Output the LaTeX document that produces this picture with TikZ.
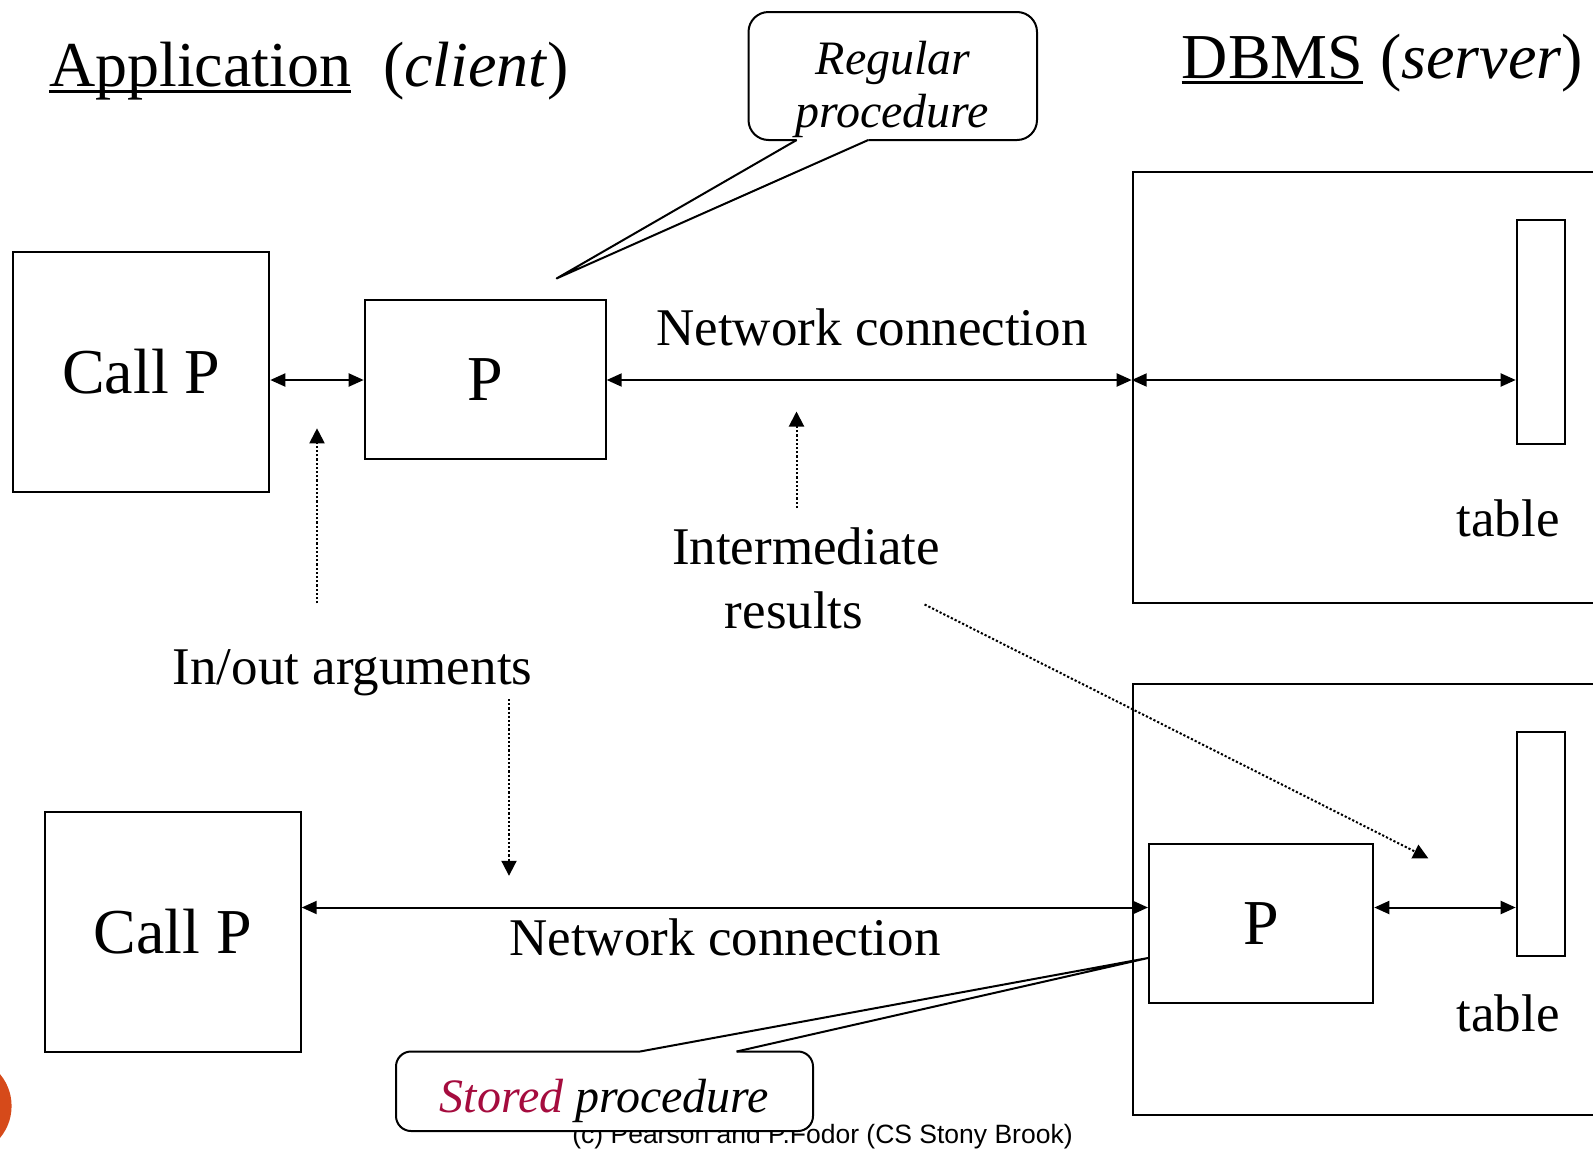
\documentclass[tikz,border=0pt]{standalone}
\usepackage{fontspec}
\setmainfont{Liberation Serif}
\newfontfamily\footfont{Liberation Sans}
\usetikzlibrary{arrows.meta}
\definecolor{storedred}{RGB}{165,12,62}
\definecolor{slidemark}{RGB}{214,74,26}
\newcommand{\fs}[1]{\fontsize{#1}{#1}\selectfont}

\begin{document}
\begin{tikzpicture}[x=1pt,y=-1pt,
  box/.style={draw, line width=2pt, inner sep=0pt, fill=white},
  link/.style={line width=2pt, {Triangle[length=15pt,width=13pt]}-{Triangle[length=15pt,width=13pt]}},
  hint/.style={line width=2pt, dash pattern=on 2.2pt off 2pt, -{Triangle[length=15pt,width=15pt]}},
  big/.style={font=\fs{64}},
  lbl/.style={font=\fs{53}, inner sep=0pt, anchor=base},
  ital/.style={font=\fs{48}\itshape, inner sep=0pt, anchor=base},
  title/.style={font=\fs{64}, inner sep=0pt, anchor=base west},
  bubble/.style={line width=2pt},
]
\useasboundingbox (0,0) rectangle (1593,1149);
\clip (0,0) rectangle (1593,1149);
\fill[white] (0,0) rectangle (1593,1149);

% slide decoration at the lower left
\fill[slidemark] (-38,1106) circle[radius=49.6pt];

% headings
\node[title] (app) at (48.8,86) {Application};
\draw[line width=3pt] ([yshift=-5pt]app.base west) -- ([yshift=-5pt]app.base east);
\node[title] (client) at (383,86) {(\textit{client})};
\node[title] (dbms) at (1181.6,78) {DBMS};
\draw[line width=3pt] ([yshift=-4pt]dbms.base west) -- ([yshift=-4pt]dbms.base east);
\node[title] (server) at (1380,78) {(\textit{server})};

% upper scenario: regular procedure on the client
\node[box, big, minimum width=256pt, minimum height=240pt] (callA) at (141.3,371.9) {Call P};
\node[box, big, minimum width=241pt, minimum height=159.6pt] (procA) at (485.2,379.5) {P};
\node[box, minimum width=517pt, minimum height=431.3pt] (dbA) at (1391.2,387.65) {};
\node[box, minimum width=48.6pt, minimum height=224pt] (tabA) at (1541,332) {};
\node[lbl] (tabAl) at (1508,536.7) {table};

\coordinate (rowA) at (0,380);
\draw[link] (callA.east |- rowA) -- (procA.west |- rowA);
\draw[link] (procA.east |- rowA) -- (dbA.west |- rowA);
\draw[link] (dbA.west |- rowA) -- (tabA.west |- rowA);

\node[lbl] (netA) at (872,345) {Network connection};
\node[lbl] (inter) at (806,564) {Intermediate};
\node[lbl] (res) at (794,628) {results};
\node[lbl] (inout) at (352.5,684) {In/out arguments};

% lower scenario: stored procedure inside the DBMS
\node[box, big, minimum width=256pt, minimum height=239.7pt] (callB) at (172.7,931.65) {Call P};
\node[box, minimum width=517pt, minimum height=431.3pt] (dbB) at (1391.2,899.65) {};
\node[box, minimum width=48.6pt, minimum height=224pt] (tabB) at (1541,843.7) {};
\node[box, big, minimum width=224.3pt, minimum height=159.6pt] (procB) at (1261.15,923.5) {P};
\node[lbl] (tabBl) at (1508,1031.7) {table};

\coordinate (rowB) at (0,907.5);
\draw[link] (callB.east |- rowB) -- (procB.west |- rowB);
\draw[link] (procB.east |- rowB) -- (tabB.west |- rowB);

\node[lbl] (netB) at (725,955) {Network connection};

% dotted pointers from the labels
\coordinate (ioA0) at (317,603.3);   \coordinate (ioA1) at (317,428.3);
\coordinate (imA0) at (796.5,508);   \coordinate (imA1) at (796.5,411.5);
\coordinate (ioB0) at (509,699);     \coordinate (ioB1) at (509,875.8);
\coordinate (imB0) at (924.6,604.5); \coordinate (imB1) at (1428.3,858.3);
\draw[hint] (ioA0) -- (ioA1);
\draw[hint] (imA0) -- (imA1);
\draw[hint] (ioB0) -- (ioB1);
\draw[hint] (imB0) -- (imB1);

% callout: regular procedure
\coordinate (regtip) at (556.7,278.4);
\draw[bubble, rounded corners=20pt] (868.3,140) -- (1037,140) -- (1037,12) -- (748.5,12) -- (748.5,140) -- (796.7,140);
\draw[bubble, line join=round] (796.7,140) -- (regtip) -- (868.3,140);
\node[ital] (reg1) at (893,74) {Regular};
\node[ital] (reg2) at (892,127) {procedure};

% footer
\node[font=\footfont\fs{26.5}, inner sep=0pt, anchor=base] (foot) at (822.5,1143) {(c) Pearson and P.Fodor (CS Stony Brook)};

% callout: stored procedure
\coordinate (sttip) at ([yshift=-34.5pt]procB.west);
\fill[white, rounded corners=15pt] (396,1051.5) rectangle (813,1131);
\draw[bubble, rounded corners=15pt] (736.6,1051.5) -- (813,1051.5) -- (813,1131) -- (396,1131) -- (396,1051.5) -- (640,1051.5);
\draw[bubble, line join=round] (640,1051.5) -- (sttip) -- (736.6,1051.5);
\node[ital] (stored) at (604.5,1112) {\textcolor{storedred}{Stored} procedure};
\end{tikzpicture}
\end{document}
